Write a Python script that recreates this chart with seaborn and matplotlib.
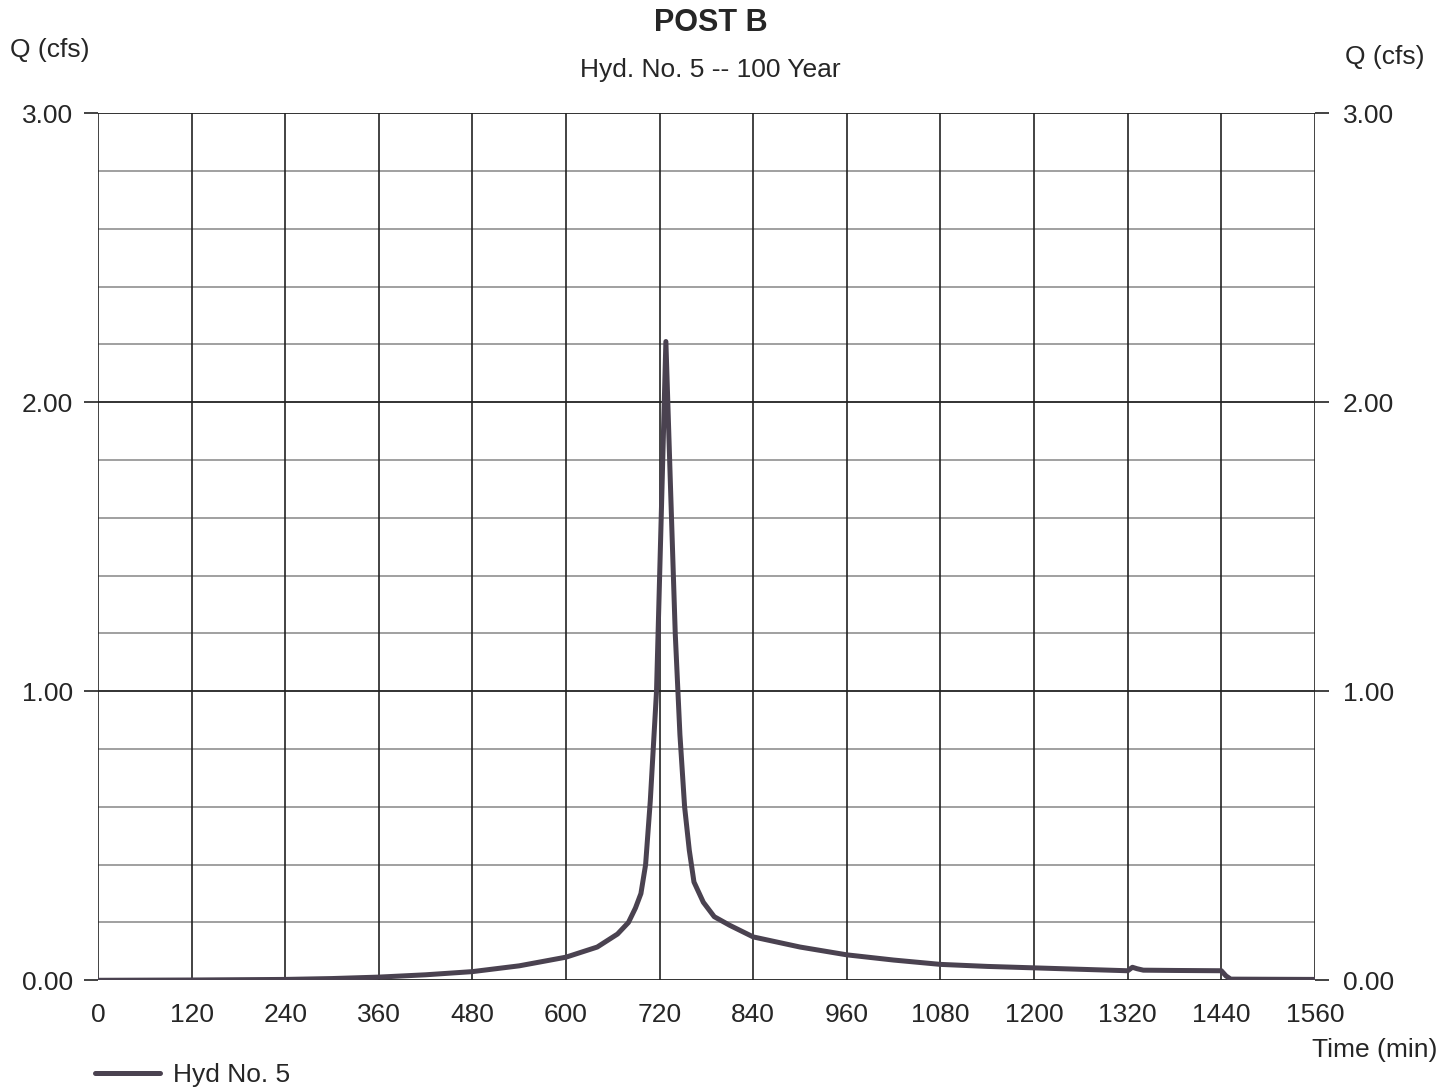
import matplotlib
matplotlib.use("Agg")
import matplotlib.pyplot as plt
import seaborn as sns
import pandas as pd
import numpy as np

# ---- data ----
time_min = [0, 120, 240, 300, 360, 420, 480, 540, 600, 640, 666, 680, 689, 696,
            702, 708, 716, 722, 728, 734, 740, 746, 752, 758, 764, 776, 790, 810,
            840, 900, 960, 1020, 1080, 1140, 1200, 1260, 1320, 1326, 1332, 1340,
            1380, 1440, 1446, 1452, 1560]
q_cfs = [0.0, 0.001, 0.003, 0.006, 0.011, 0.019, 0.03, 0.05, 0.08, 0.115, 0.16,
         0.2, 0.25, 0.3, 0.4, 0.62, 1.0, 1.6, 2.21, 1.7, 1.2, 0.85, 0.6, 0.45,
         0.34, 0.27, 0.22, 0.19, 0.15, 0.115, 0.088, 0.07, 0.055, 0.048, 0.043,
         0.038, 0.033, 0.045, 0.04, 0.035, 0.034, 0.033, 0.015, 0.004, 0.003]
x_ticks = [0, 120, 240, 360, 480, 600, 720, 840, 960, 1080, 1200, 1320, 1440, 1560]
y_ticks = [0.0, 1.0, 2.0, 3.0]
series_name = "Hyd No. 5"
title = "POST B"
subtitle = "Hyd. No. 5 -- 100 Year"

df = pd.DataFrame({"Time (min)": time_min, "Q (cfs)": q_cfs, "series": series_name})

sns.set_theme(style="white")
plt.rcParams["font.family"] = ["Liberation Sans", "DejaVu Sans"]

FS = 19
fig = plt.figure(figsize=(14.53, 10.88), dpi=100)
ax = fig.add_axes([0.0674, 0.099, 0.8376, 0.797])

# minor horizontal gridlines
for yv in np.arange(0.2, 3.0, 0.2):
    if abs(yv - round(yv)) > 1e-6:
        ax.axhline(yv, color="#a0a0a0", lw=1.4, zorder=1)
# major gridlines
for yv in y_ticks:
    ax.axhline(yv, color="#222222", lw=1.3, zorder=1.5)
for xv in x_ticks:
    ax.axvline(xv, color="#222222", lw=1.2, zorder=1.5)

sns.lineplot(data=df, x="Time (min)", y="Q (cfs)", color="#4a4250", lw=3.6,
             ax=ax, zorder=3, label=series_name, legend=False)

ax.set_xlim(0, 1560)
ax.set_ylim(0, 3.0)
ax.set_xticks(x_ticks)
ax.set_xticklabels([str(v) for v in x_ticks])
ax.set_yticks(y_ticks)
ax.set_yticklabels([f"{v:.2f}" for v in y_ticks])
for s in ax.spines.values():
    s.set_visible(False)
ax.tick_params(axis="y", which="both", left=True, length=10, width=1.2,
               color="#222222", labelsize=FS, pad=8)
ax.tick_params(axis="x", bottom=False, labelsize=FS, pad=10)
ax.set_xlabel("")
ax.set_ylabel("")

ax2 = ax.twinx()
ax2.set_ylim(0, 3.0)
ax2.set_yticks(y_ticks)
ax2.set_yticklabels([f"{v:.2f}" for v in y_ticks])
for s in ax2.spines.values():
    s.set_visible(False)
ax2.tick_params(axis="y", right=True, length=10, width=1.2, color="#222222",
                labelsize=FS, pad=10)
ax2.grid(False)

fig.text(0.489, 0.979, title, ha="center", va="center", fontsize=22, fontweight="bold")
fig.text(0.489, 0.936, subtitle, ha="center", va="center", fontsize=FS)
fig.text(0.0344, 0.954, "Q (cfs)", ha="center", va="center", fontsize=FS)
fig.text(0.953, 0.948, "Q (cfs)", ha="center", va="center", fontsize=FS)
fig.text(0.946, 0.035, "Time (min)", ha="center", va="center", fontsize=FS)

handles, labels = ax.get_legend_handles_labels()
fig.legend(handles, labels, loc="center left", bbox_to_anchor=(0.049, 0.012),
           frameon=False, fontsize=FS, handlelength=2.45, handletextpad=0.5)

fig.savefig("out.png", dpi=100, facecolor="white")
